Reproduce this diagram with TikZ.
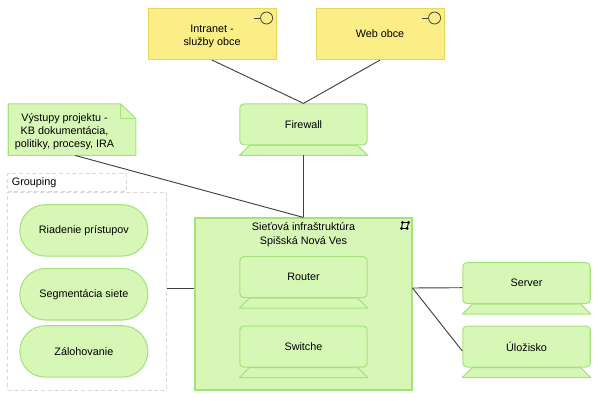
\documentclass[tikz,border=0pt]{standalone}
\usepackage{fontspec}
\setmainfont{Liberation Sans}
\definecolor{nodegreen}{RGB}{214,247,182}
\definecolor{edgegreen}{RGB}{166,226,124}
\definecolor{nodeyellow}{RGB}{252,238,135}
\definecolor{edgeyellow}{RGB}{232,214,90}
\definecolor{linkgray}{RGB}{64,64,64}
\usetikzlibrary{positioning, calc, backgrounds}
\newcommand{\topgap}{\rule{0pt}{9pt}}
\tikzset{
  tech/.style={
    rectangle, draw=edgegreen, fill=nodegreen, line width=0.8pt,
    minimum width=95.5pt, minimum height=30.75pt,
    align=center, rounded corners=3pt, font=\fontsize{8.1}{10}\selectfont},
  foot/.style={draw=edgegreen, fill=nodegreen, line width=0.8pt, line join=round},
  service/.style={
    rectangle, draw=edgeyellow, fill=nodeyellow, line width=0.8pt,
    minimum width=96pt, minimum height=38.25pt,
    align=center, font=\fontsize{8.1}{10}\selectfont},
  pill/.style={
    rectangle, draw=edgegreen, fill=nodegreen, line width=0.8pt,
    minimum width=96pt, minimum height=38.6pt,
    align=center, rounded corners=19.2pt, font=\fontsize{8.1}{10}\selectfont},
  notebox/.style={
    rectangle, minimum width=84pt, minimum height=38.25pt,
    inner sep=0pt, align=center, font=\fontsize{8.1}{9.5}\selectfont},
  netbox/.style={
    rectangle, draw=edgegreen, fill=nodegreen, line width=0.8pt,
    minimum width=162.75pt, minimum height=129pt,
    align=center, font=\fontsize{8.1}{10}\selectfont},
  groupbox/.style={
    rectangle, draw=black!15, densely dashed, line width=0.6pt},
  link/.style={draw=linkgray, line width=0.7pt},
}

\begin{document}
\begin{tikzpicture}[x=0.75pt, y=0.75pt]
  \useasboundingbox (0,0) rectangle (598,400);
  % network block and what sits inside it
  \node[netbox] (net) at (303.5,96) {};
  \node[font=\fontsize{8.1}{10}\selectfont, align=center, below=0.5pt of net.north]
    (nettitle) {Sieťová infraštruktúra\\Spišská Nová Ves};
  \node[tech, below=29pt of net.north] (router) {Router};
  \node[tech, below=20.5pt of router] (switch) {Switche};
  % devices round it
  \node[tech, above=54pt of net] (fw) {Firewall};
  \node[tech, right=71pt of switch] (storage) {Úložisko};
  \node[tech, above=16pt of storage] (server) {Server};
  \foreach \n in {fw, router, switch, storage, server} {
    \coordinate (\n-base) at ($(\n.south)+(0,-7.5pt)$);
    \draw[foot] ($(\n.south west)+(0,-7.5pt)$) -- ($(\n.south west)+(7.5pt,0)$)
      -- ($(\n.south east)+(-7.5pt,0)$) -- ($(\n.south east)+(0,-7.5pt)$) -- cycle;
  }
  % services
  \node[service, above=32.5pt of fw, xshift=-68.6pt] (intranet) {\topgap Intranet -\\služby obce};
  \node[service, above=32.5pt of fw, xshift=57.4pt] (web) {Web obce};
  \foreach \n in {intranet, web} {
    \node[circle, draw=linkgray, line width=0.6pt, minimum size=9pt, inner sep=0pt]
      (\n-icon) at ($(\n.north east)+(-7.5pt,-7.5pt)$) {};
    \coordinate (\n-stub) at ($(\n-icon.west)+(-4.5pt,0)$);
    \draw[linkgray, line width=0.6pt] (\n-stub) -- (\n-icon.west);
  }
  % note
  \node[notebox, above left=46.5pt and 55.25pt of net.north west] (note)
    {\topgap Výstupy projektu -\\KB dokumentácia,\\politiky, procesy, IRA};
  \begin{scope}[on background layer]
    \draw[draw=edgegreen, fill=nodegreen, line width=0.8pt]
      (note.north west) -- (note.north east)
      -- ($(note.north east)+(11.25pt,-11pt)$) -- ($(note.south east)+(11.25pt,0)$)
      -- (note.south west) -- cycle;
    \draw[draw=edgegreen, line width=0.8pt] (note.north east)
      -- ($(note.north east)+(0,-11pt)$) -- ($(note.north east)+(11.25pt,-11pt)$);
  \end{scope}
  % grouping
  \node[groupbox, left=20.5pt of net, yshift=9.75pt, minimum width=119.25pt,
        minimum height=148.5pt] (grp) {};
  \node[groupbox, above=0pt of grp.north west, anchor=south west, minimum width=89.25pt,
        minimum height=13pt, inner sep=0pt, inner xsep=3pt, font=\fontsize{8.1}{10}\selectfont,
        text width=83pt, align=left] (grplabel) {\raisebox{-2pt}{Grouping}};
  \node[pill, below right=9.4pt and 9pt of grp.north west] (access) {Riadenie prístupov};
  \node[pill, below=8.5pt of access] (segment) {Segmentácia siete};
  \node[pill, below=3.5pt of segment] (backup) {Zálohovanie};
  % network icon
  \coordinate (icona) at ($(net.north east)+(-7.5pt,-3.75pt)$);
  \coordinate (iconb) at ($(net.north east)+(-3pt,-3.75pt)$);
  \coordinate (iconc) at ($(net.north east)+(-4.1pt,-8.25pt)$);
  \coordinate (icond) at ($(net.north east)+(-8.25pt,-8.25pt)$);
  \draw[black, line width=0.7pt] (icona) -- (iconb) -- (iconc) -- (icond) -- cycle;
  \foreach \c in {icona, iconb, iconc, icond} \fill[black] (\c) circle (1.2pt);
  % connectors
  \draw[link] (intranet.south) -- (fw.north);
  \draw[link] (web.south) -- (fw.north);
  \draw[link] (fw-base) -- (net.north);
  \draw[link] ([xshift=8pt]note.south) -- (net.north);
  \draw[link] ([yshift=2.25pt]grp.east) -- ([yshift=12pt]net.west);
  \draw[link] ([yshift=12pt]net.east) -- ([yshift=-3.4pt]server.west);
  \draw[link] ([yshift=12pt]net.east) -- ([yshift=-3.4pt]storage.west);
\end{tikzpicture}
\end{document}
